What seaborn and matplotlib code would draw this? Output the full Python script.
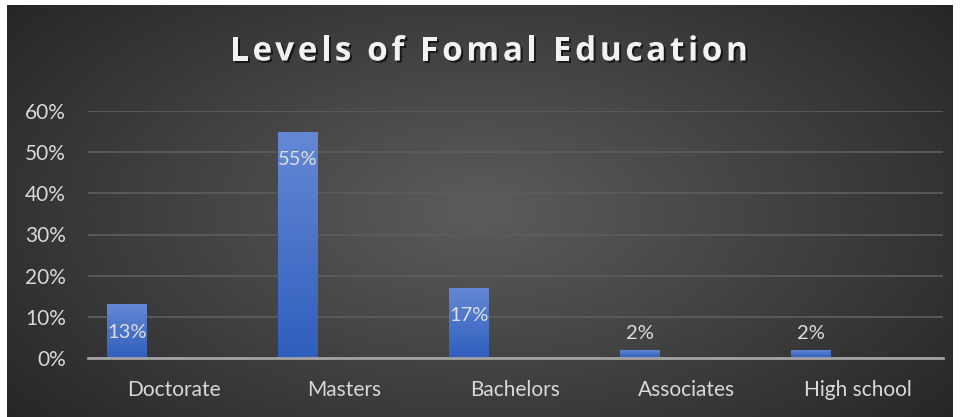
import matplotlib.pyplot as plt
import matplotlib.patheffects as pe
import numpy as np
import pandas as pd
import seaborn as sns
from matplotlib.colors import LinearSegmentedColormap
from matplotlib.ticker import PercentFormatter

levels = ['Doctorate', 'Masters', 'Bachelors', 'Associates', 'High school']
shares = [0.13, 0.55, 0.17, 0.02, 0.02]
series = ['Share', 'Blank']
chart_title = 'Levels of Fomal Education'

# second series is empty, it only pushes the bars left like in the excel chart
df = pd.DataFrame({
    'level': levels * 2,
    'share': shares + [np.nan] * len(levels),
    'series': [series[0]] * len(levels) + [series[1]] * len(levels),
})

sns.set_theme(style='dark')
plt.rcParams['font.family'] = ['Lato', 'DejaVu Sans']

fig = plt.figure(figsize=(9.61, 4.17), dpi=100, facecolor='white')

# dark radial background of the chart box
bg = fig.add_axes([7 / 961, 0, 946 / 961, 412 / 417])
bg.set_axis_off()
yy, xx = np.mgrid[-1:1:300j, -1:1:600j]
r = np.sqrt(xx ** 2 + (yy * 0.8) ** 2)
bg_cmap = LinearSegmentedColormap.from_list('bgc', ['#5a5a5a', '#262626'])
bg.imshow(r, cmap=bg_cmap, aspect='auto', extent=[0, 1, 0, 1], vmin=0.05, vmax=1.3)

ax = fig.add_axes([88 / 961, 59 / 417, 855 / 961, 247 / 417])
ax.patch.set_alpha(0)
sns.barplot(data=df, x='level', y='share', hue='series', hue_order=series,
            palette=['#4472c4', '#4472c4'], width=1.088, gap=0.58,
            legend=False, ax=ax, err_kws={'linewidth': 0})

# gradient fill for each bar
bar_cmap = LinearSegmentedColormap.from_list('bar', ['#2f5fbd', '#6488d4'])
grad = np.linspace(0, 1, 100).reshape(-1, 1)
for p in list(ax.patches):
    h = p.get_height()
    if not np.isfinite(h) or h <= 0:
        continue
    x0, w = p.get_x(), p.get_width()
    p.set_facecolor('none')
    p.set_edgecolor('none')
    im = ax.imshow(grad, cmap=bar_cmap, origin='lower', aspect='auto',
                   extent=[x0, x0 + w, 0, h], zorder=2)
    im.set_clip_path(p)
    label_offset = -20 if h > 0.05 else 11.5
    ax.annotate(f'{h:.0%}', xy=(x0 + w / 2, h), xytext=(0, label_offset),
                textcoords='offset points', ha='center', va='center',
                color='#dedede', fontsize=14.5, zorder=3)

ax.set_xlim(-0.5, len(levels) - 0.5)
ax.set_ylim(0, 0.6)
ax.set_yticks(np.arange(0, 0.61, 0.1))
ax.yaxis.set_major_formatter(PercentFormatter(1, decimals=0))
ax.set_xlabel('')
ax.set_ylabel('')
ax.yaxis.grid(True, color='#5c5c5c', linewidth=1.3)
ax.xaxis.grid(False)
ax.set_axisbelow(True)
for side in ['top', 'right', 'left']:
    ax.spines[side].set_visible(False)
ax.spines['bottom'].set_color('#a3a3a3')
ax.spines['bottom'].set_linewidth(2)
ax.spines['bottom'].set_zorder(4)
ax.tick_params(axis='y', length=0, pad=16, labelsize=15, labelcolor='#d9d9d9')
ax.tick_params(axis='x', length=0, pad=16, labelsize=15, labelcolor='#d9d9d9')

# title with letter spacing: place each character after the prefix width
title_kw = dict(fontsize=24, fontweight='bold', color='#f2f2f2', va='center',
                family=['Open Sans', 'DejaVu Sans'],
                path_effects=[pe.withSimplePatchShadow(offset=(1.5, -1.5),
                                                       shadow_rgbFace='black', alpha=0.6)])
renderer = fig.canvas.get_renderer()


def text_width(s):
    t = fig.text(0, 0, s, **title_kw)
    wid = t.get_window_extent(renderer).width
    t.remove()
    return wid


title_px = 518
spacing = (title_px - text_width(chart_title)) / (len(chart_title) - 1)
starts = [text_width(chart_title[:i + 1]) - text_width(chart_title[i]) + i * spacing
          for i in range(len(chart_title))]
left = 489 - title_px / 2
for ch, s in zip(chart_title, starts):
    if ch != ' ':
        fig.text((left + s) / 961, 1 - 52 / 417, ch, ha='left', **title_kw)

fig.savefig('out.png', dpi=100, facecolor='white')
